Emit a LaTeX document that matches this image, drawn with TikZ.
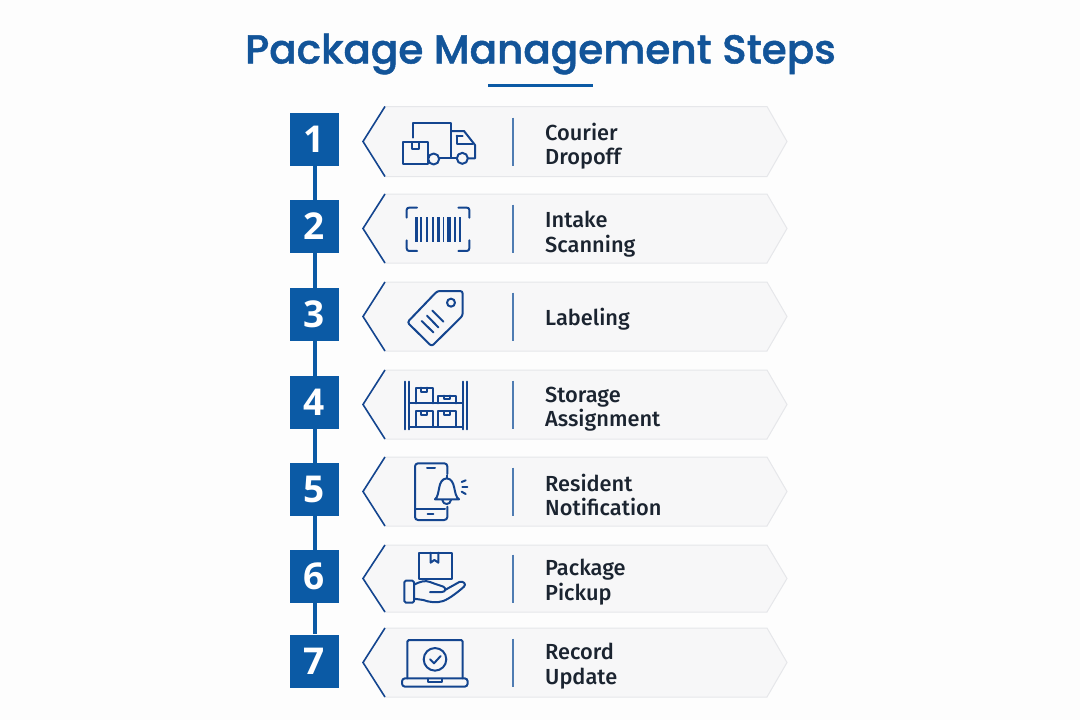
\documentclass[tikz,border=0pt]{standalone}
\usepackage{fontspec}
\setmainfont{Open Sans}
\newfontfamily\titlefont{Poppins Medium}[FakeBold=1.2]
\newfontfamily\bodyfont{Fira Sans Medium}
\newfontfamily\numfont{Open Sans}
\definecolor{bluemain}{HTML}{0B5AA5}
\definecolor{titleblue}{HTML}{125499}
\definecolor{navy}{HTML}{14458F}
\definecolor{panelfill}{HTML}{F7F7F8}
\definecolor{panelline}{HTML}{E6E7EA}
\definecolor{divblue}{HTML}{4F7CB2}
\definecolor{inkdark}{HTML}{1B2430}
\definecolor{pagebg}{HTML}{FDFDFD}
\tikzset{
  numbox/.style={fill=bluemain,draw=none,minimum width=49.5pt,minimum height=53pt,inner sep=0pt,text=white,font=\numfont\bfseries\fontsize{37}{37}\selectfont},
  steplabel/.style={anchor=west,align=left,inner sep=0pt,text=inkdark,font=\bodyfont\fontsize{21.8}{24.5}\selectfont},
  linkline/.style={draw=bluemain,line width=4pt},
  ico/.style={draw=navy,line width=2pt,line cap=round,line join=round},
  icozoom/.style={x=.33333pt,y=-.33333pt}
}
\newcommand{\panelrow}[2]{%
  \pgfmathsetmacro{\pmid}{(#1+#2)/2}%
  \fill[panelfill] (363,\pmid) -- (385,#1) -- (767,#1) -- (787,\pmid) -- (767,#2) -- (385,#2) -- cycle;
  \draw[panelline,line width=1pt] (385,#1) -- (767,#1) -- (787,\pmid) -- (767,#2) -- (385,#2);
  \draw[navy,line width=1.6pt] (385,#1) -- (363,\pmid) -- (385,#2);
  \draw[divblue,line width=1.6pt] (513,\pmid-24) -- (513,\pmid+24);
}
\begin{document}
\begin{tikzpicture}[x=1pt,y=-1pt]
\useasboundingbox (0,0) rectangle (1080,720);
\fill[pagebg] (0,0) rectangle (1080,720);

\node[anchor=center,inner sep=0pt,text=titleblue,font=\titlefont\fontsize{40.5}{41}\selectfont] (title) at (540.5,54) {Package Management Steps};
\coordinate (ruleL) at (488,85);
\coordinate (ruleR) at (593,85);
\draw[bluemain,line width=3pt] (ruleL) -- (ruleR);

\panelrow{106.5}{176.5}
\panelrow{194}{263}
\panelrow{282}{351}
\panelrow{370}{439}
\panelrow{457}{526}
\panelrow{545}{612}
\panelrow{628}{697}

\node[numbox] (s1) at (314.5,139) {1};
\node[numbox] (s2) at (314.5,226.5) {2};
\node[numbox] (s3) at (314.5,314.7) {3};
\node[numbox] (s4) at (314.5,402.5) {4};
\node[numbox] (s5) at (314.5,489.5) {5};
\node[numbox] (s6) at (314.5,576.5) {6};
\node[numbox] (s7) at (314.5,661) {7};
\draw[linkline] (s1) -- (s2);
\draw[linkline] (s2) -- (s3);
\draw[linkline] (s3) -- (s4);
\draw[linkline] (s4) -- (s5);
\draw[linkline] (s5) -- (s6);
\draw[linkline] (s6) -- (s7);
\foreach \n/\t in {s1/1,s2/2,s3/3,s4/4,s5/5,s6/6,s7/7}{\node[numbox] at (\n) {\t};}

\node[steplabel] (t1) at (545,146) {Courier\\Dropoff};
\node[steplabel] (t2) at (545,234) {Intake\\Scanning};
\node[steplabel] (t3) at (545,319.5) {Labeling};
\node[steplabel] (t4) at (545,409) {Storage\\Assignment};
\node[steplabel] (t5) at (545,495) {Resident\\Notification};
\node[steplabel] (t6) at (545,582) {Package\\Pickup};
\node[steplabel] (t7) at (545,666) {Record\\Update};

% truck
\begin{scope}[xshift=280pt,yshift=-95pt,icozoom]
\draw[ico] (369,142) rectangle (445,208);
\draw[ico] (397,142) -- (397,163) -- (416,163) -- (416,142);
\draw[ico] (399,128) -- (399,85) -- (514,85) -- (514,190) -- (478,190);
\draw[ico] (514,108) -- (552,108) -- (585,150) -- (585,190) -- (565,190);
\draw[ico] (514,190) -- (529,190);
\draw[ico] (530,122) -- (530,147) -- (578,147);
\draw[ico] (530,122) -- (548,122);
\draw[ico] (461,192) circle (5.5pt);
\draw[ico] (547,190) circle (5.5pt);
% barcode
\draw[ico] (380,368) -- (380,345) .. controls (380,340) and (383,338) .. (388,338) -- (411,338);
\draw[ico] (535,338) -- (560,338) .. controls (565,338) and (568,340) .. (568,345) -- (568,368);
\draw[ico] (380,436) -- (380,460) .. controls (380,465) and (383,468) .. (388,468) -- (411,468);
\draw[ico] (535,468) -- (560,468) .. controls (565,468) and (568,465) .. (568,460) -- (568,436);
\foreach \bx/\bw in {408/9,422/6,440/7,458/5,475/7,490/5,507/10,525/5,541/6}{
  \fill[navy] (\bx-\bw/2,367) rectangle (\bx+\bw/2,442);
}
\end{scope}
% tag and shelf
\begin{scope}[xshift=280pt,yshift=-275pt,icozoom]
\draw[ico,rounded corners=2.5pt] (472,48) -- (548,48) -- (548,122) -- (455,214) -- (382,142) -- cycle;
\draw[ico] (513,83) circle (4pt);
\draw[ico] (457,107) -- (490,140);
\draw[ico] (441,122) -- (475,157);
\draw[ico] (425,138) -- (460,172);
\draw[ico] (376,320) -- (376,463);
\draw[ico] (388,320) -- (388,463);
\draw[ico] (548,320) -- (548,463);
\draw[ico] (560,320) -- (560,463);
\draw[ico] (388,385) -- (548,385);
\draw[ico] (388,455) -- (548,455);
\draw[ico] (407,385) -- (407,338) -- (459,338) -- (459,385);
\draw[ico] (424,338) -- (424,350) -- (441,350) -- (441,338);
\draw[ico] (475,385) -- (475,362) -- (527,362) -- (527,385);
\draw[ico] (492,362) -- (492,372) -- (509,372) -- (509,362);
\draw[ico] (407,455) -- (407,409) -- (459,409) -- (459,455);
\draw[ico] (424,409) -- (424,421) -- (441,421) -- (441,409);
\draw[ico] (475,455) -- (475,409) -- (527,409) -- (527,455);
\draw[ico] (492,409) -- (492,421) -- (509,421) -- (509,409);
\end{scope}
% phone, hand, laptop
\begin{scope}[xshift=280pt,yshift=-450pt,icozoom]
\draw[ico,rounded corners=3pt] (502,72) -- (502,40) -- (405,40) -- (405,210) -- (502,210) -- (502,170);
\draw[ico] (405,178) -- (495,178);
\draw[ico] (441,55) -- (465,55);
\draw[ico] (443,193) -- (460,193);
\draw[ico] (465,148) .. controls (482,135) and (470,88) .. (500,85) .. controls (530,88) and (518,135) .. (537,148) -- cycle;
\draw[ico] (500,85) -- (500,76);
\draw[ico] (487,150) .. controls (489,166) and (511,166) .. (513,150);
\draw[ico] (545,96) -- (557,91);
\draw[ico] (547,110) -- (562,110);
\draw[ico] (545,125) -- (557,132);
% hand
\draw[ico] (417,386) -- (417,308) -- (515,308) -- (515,388) -- (417,388);
\draw[ico] (452,308) -- (452,338) -- (463,330) -- (475,338) -- (475,308);
\draw[ico,rounded corners=1.5pt] (373,392) rectangle (402,458);
\draw[ico] (402,404) .. controls (420,395) and (435,390) .. (450,396) .. controls (465,402) and (480,406) .. (490,410) .. controls (500,415) and (497,426) .. (485,426) -- (450,426);
\draw[ico] (495,420) -- (538,396) .. controls (550,392) and (560,402) .. (552,410) .. controls (535,425) and (510,445) .. (490,453) .. controls (470,460) and (445,456) .. (430,450) -- (402,446);
% laptop
\draw[ico,rounded corners=1.5pt] (382,685) -- (382,570) -- (548,570) -- (548,685);
\draw[ico,rounded corners=3pt] (366,685) -- (563,685) -- (563,710) -- (366,710) -- cycle;
\draw[ico] (445,686) -- (445,696) -- (485,696) -- (485,686);
\draw[ico] (465,628) circle (11.3pt);
\draw[ico] (450,628) -- (462,640) -- (482,618);
\end{scope}
\end{tikzpicture}
\end{document}
